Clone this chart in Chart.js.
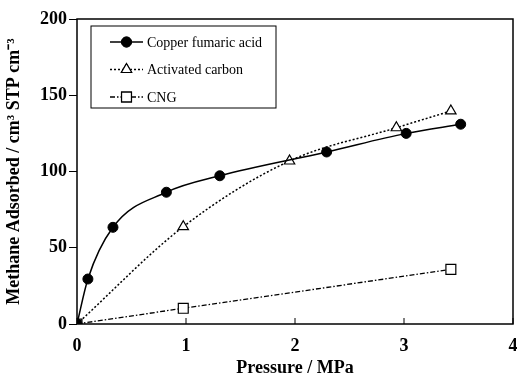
<!DOCTYPE html>
<html>
<head>
<meta charset="utf-8">
<script src="https://cdn.jsdelivr.net/npm/chart.js@4/dist/chart.umd.min.js"></script>
<style>
	body { margin: 0; background: #fff; }
	canvas { display: block; }
</style>
</head>
<body>
<canvas id="chart" width="517" height="379"></canvas>
<script>
const copperX = [0, 0.1, 0.33, 0.82, 1.31, 2.29, 3.02, 3.52];
const copperY = [0, 29.5, 63.4, 86.4, 97.2, 112.8, 125, 131];
const carbonX = [0, 0.975, 1.95, 2.93, 3.43];
const carbonY = [0, 63.8, 106.9, 128.7, 139.7];
const cngX = [0, 0.975, 3.43];
const cngY = [0, 10.3, 35.8];
const xTicks = [0, 1, 2, 3, 4];
const yTicks = [0, 50, 100, 150, 200];

function toPoints(xs, ys) {
	return xs.map(function(x, i) { return {x: x, y: ys[i]}; });
}

const serif = "'Liberation Serif', 'Times New Roman', serif";

// frame, inward x ticks and the boxed legend
const framePlugin = {
	id: 'frame',
	afterDatasetsDraw(chart) {
		const ctx = chart.ctx;
		const a = chart.chartArea;
		const xs = chart.scales.x;
		ctx.save();
		ctx.strokeStyle = '#000';
		ctx.lineWidth = 1.5;
		ctx.strokeRect(a.left, a.top, a.right - a.left, a.bottom - a.top);
		ctx.lineWidth = 1;
		xTicks.forEach(function(v) {
			const px = xs.getPixelForValue(v);
			ctx.beginPath();
			ctx.moveTo(px, a.bottom);
			ctx.lineTo(px, a.bottom - 6);
			ctx.stroke();
		});

		// legend
		const bx = a.left + 14, by = a.top + 7, bw = 185, bh = 82;
		ctx.fillStyle = '#fff';
		ctx.fillRect(bx, by, bw, bh);
		ctx.lineWidth = 1;
		ctx.strokeRect(bx, by, bw, bh);
		ctx.font = '14px ' + serif;
		ctx.textBaseline = 'middle';
		chart.data.datasets.forEach(function(ds, i) {
			const ry = by + 16 + i * 27.5;
			const x0 = bx + 19, x1 = bx + 52, xm = (x0 + x1) / 2;
			ctx.save();
			ctx.strokeStyle = ds.borderColor;
			ctx.lineWidth = ds.borderWidth;
			ctx.setLineDash(ds.borderDash || []);
			ctx.beginPath();
			ctx.moveTo(x0, ry);
			ctx.lineTo(x1, ry);
			ctx.stroke();
			ctx.restore();
			Chart.helpers.drawPoint(ctx, {
				pointStyle: ds.pointStyle,
				radius: ds.pointRadius,
				borderWidth: ds.pointBorderWidth,
				rotation: 0
			}, xm, ry);
			ctx.fillStyle = ds.pointBackgroundColor;
			ctx.strokeStyle = '#000';
			ctx.lineWidth = ds.pointBorderWidth;
			ctx.fill();
			ctx.stroke();
			ctx.fillStyle = '#000';
			ctx.fillText(ds.label, x1 + 4, ry + 1);
		});
		ctx.restore();
	}
};

new Chart(document.getElementById('chart').getContext('2d'), {
	type: 'scatter',
	data: {
		datasets: [{
			label: 'Copper fumaric acid',
			data: toPoints(copperX, copperY),
			showLine: true,
			cubicInterpolationMode: 'monotone',
			borderColor: '#000',
			borderWidth: 1.5,
			pointStyle: 'circle',
			pointRadius: 5,
			pointBorderWidth: 1,
			pointBackgroundColor: '#000',
			pointBorderColor: '#000'
		}, {
			label: 'Activated carbon',
			data: toPoints(carbonX, carbonY),
			showLine: true,
			cubicInterpolationMode: 'monotone',
			borderColor: '#000',
			borderWidth: 1.5,
			borderDash: [2, 2],
			pointStyle: 'triangle',
			pointRadius: 6,
			pointBorderWidth: 1.2,
			pointBackgroundColor: '#fff',
			pointBorderColor: '#000'
		}, {
			label: 'CNG',
			data: toPoints(cngX, cngY),
			showLine: true,
			borderColor: '#000',
			borderWidth: 1.3,
			borderDash: [5, 2, 1.5, 2],
			pointStyle: 'rect',
			pointRadius: 7,
			pointBorderWidth: 1.2,
			pointBackgroundColor: '#fff',
			pointBorderColor: '#000'
		}]
	},
	options: {
		responsive: false,
		animation: false,
		layout: {
			autoPadding: false,
			padding: {top: 19, right: 4, left: 0, bottom: 0}
		},
		scales: {
			x: {
				type: 'linear',
				min: 0,
				max: 4,
				afterBuildTicks: function(s) { s.ticks = xTicks.map(function(v) { return {value: v}; }); },
				afterFit: function(s) {
					s.height = 55;
					s.paddingLeft = 0;
					s.paddingRight = 0;
				},
				grid: {drawOnChartArea: false, drawTicks: true, tickLength: 12, color: 'rgba(0,0,0,0)'},
				border: {display: false},
				ticks: {
					color: '#000',
					padding: 0,
					font: {family: serif, size: 18, weight: 'bold'}
				},
				title: {
					display: true,
					text: 'Pressure / MPa',
					color: '#000',
					padding: {top: 4, bottom: 0},
					font: {family: serif, size: 18, weight: 'bold'}
				}
			},
			y: {
				type: 'linear',
				min: 0,
				max: 200,
				afterBuildTicks: function(s) { s.ticks = yTicks.map(function(v) { return {value: v}; }); },
				afterFit: function(s) { s.width = 77; },
				grid: {drawOnChartArea: false, drawTicks: true, tickLength: 8, color: '#000'},
				border: {display: false},
				ticks: {
					color: '#000',
					padding: 2,
					font: {family: serif, size: 18, weight: 'bold'}
				},
				title: {
					display: true,
					text: 'Methane Adsorbed / cm³ STP cm⁻³',
					color: '#000',
					padding: {bottom: 2},
					font: {family: serif, size: 18, weight: 'bold'}
				}
			}
		},
		plugins: {
			legend: {display: false},
			tooltip: {enabled: false}
		}
	},
	plugins: [framePlugin]
});
</script>
</body>
</html>
